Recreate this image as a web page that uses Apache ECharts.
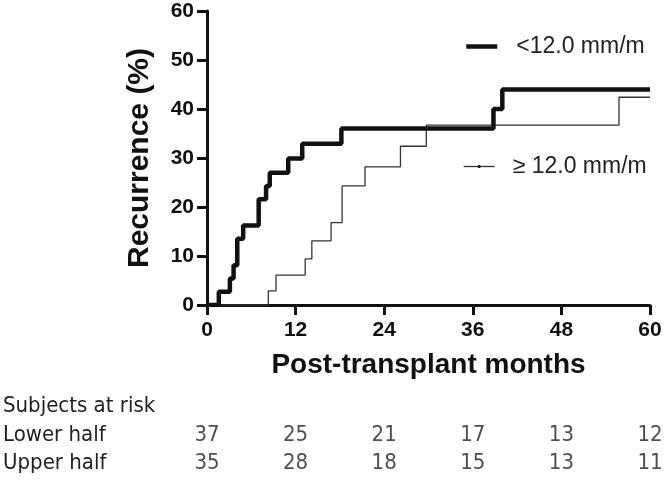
<!DOCTYPE html>
<html><head><meta charset="utf-8">
<script src="https://cdn.jsdelivr.net/npm/echarts@6/dist/echarts.min.js"></script>
<style>html,body{margin:0;padding:0;background:#fff}#c{width:666px;height:486px}</style>
</head><body><div id="c"></div>
<script>
const lowerName = '<12.0 mm/m';
const upperName = '≥ 12.0 mm/m';
const lowerMonths = [0, 1.6, 3.1, 3.6, 4.1, 4.9, 7.0, 8.0, 8.5, 11.0, 12.9, 18.2, 38.8, 40.0, 60];
const lowerPct    = [0, 2.7, 5.4, 8.1, 13.5, 16.2, 21.6, 24.3, 27.0, 29.9, 32.9, 36.0, 40.0, 44.0, 44.0];
const upperMonths = [0, 8.3, 9.35, 13.3, 14.2, 16.8, 18.3, 21.4, 26.2, 29.7, 55.8, 60];
const upperPct    = [0, 2.9, 6.1, 9.4, 13.1, 16.8, 24.3, 28.2, 32.4, 36.7, 42.4, 42.4];
const xTicks = [0, 12, 24, 36, 48, 60];
const riskRows = ['Subjects at risk', 'Lower half', 'Upper half'];
const riskLower = [37, 25, 21, 17, 13, 12];
const riskUpper = [35, 28, 18, 15, 13, 11];

const boldFont = 'Liberation Sans, Arial, sans-serif';
const narrowFont = 'DejaVu Sans Condensed, Liberation Sans, sans-serif';

const chart = echarts.init(document.getElementById('c'), null, {renderer: 'canvas'});
const riskData = [];
xTicks.forEach((m, i) => {
  riskData.push([m, 'Lower half', riskLower[i]]);
  riskData.push([m, 'Upper half', riskUpper[i]]);
});

chart.setOption({
  animation: false,
  backgroundColor: '#fff',
  grid: [
    {left: 207, right: 16, top: 11, height: 294},
    {left: 207, right: 16, top: 392, height: 86}
  ],
  legend: [
    {data: [{name: lowerName}], left: 464, top: 35, padding: 0, itemWidth: 31, itemHeight: 4,
     lineStyle: {width: 4.5, color: '#111'},
     textStyle: {fontFamily: boldFont, fontSize: 23, color: '#222', padding: [0, 0, 0, 14]}},
    {data: [{name: upperName}], left: 463, top: 155, padding: 0, itemWidth: 31, itemHeight: 4,
     lineStyle: {width: 1.3, color: '#333'},
     textStyle: {fontFamily: boldFont, fontSize: 23, color: '#222', padding: [0, 0, 0, 13]}}
  ],
  xAxis: [
    {type: 'value', gridIndex: 0, min: 0, max: 60, interval: 12,
     name: 'Post-transplant months', nameLocation: 'middle', nameGap: 46,
     nameTextStyle: {fontFamily: boldFont, fontWeight: 'bold', fontSize: 28, color: '#111'},
     axisLine: {show: true, lineStyle: {color: '#111', width: 3}},
     axisTick: {show: true, length: 10, lineStyle: {color: '#111', width: 3}},
     axisLabel: {margin: 15, fontFamily: boldFont, fontWeight: 'bold', fontSize: 21, color: '#111'},
     splitLine: {show: false}},
    {type: 'value', gridIndex: 1, min: 0, max: 60, interval: 12, show: false}
  ],
  yAxis: [
    {type: 'value', gridIndex: 0, min: 0, max: 60, interval: 10,
     name: 'Recurrence (%)', nameLocation: 'middle', nameGap: 52,
     nameTextStyle: {fontFamily: boldFont, fontWeight: 'bold', fontSize: 30, color: '#111'},
     axisLine: {show: true, lineStyle: {color: '#111', width: 3}},
     axisTick: {show: true, length: 10, lineStyle: {color: '#111', width: 3}},
     axisLabel: {margin: 13, fontFamily: boldFont, fontWeight: 'bold', fontSize: 21, color: '#111'},
     splitLine: {show: false}},
    {type: 'category', gridIndex: 1, data: riskRows, inverse: true,
     axisLine: {show: false}, axisTick: {show: false}, splitLine: {show: false},
     axisLabel: {interval: 0, align: 'left', margin: 204, fontFamily: narrowFont, fontSize: 22, color: '#222'}}
  ],
  series: [
    {name: lowerName, type: 'line', step: 'end', xAxisIndex: 0, yAxisIndex: 0,
     data: lowerMonths.map((m, i) => [m, lowerPct[i]]), symbol: 'none',
     lineStyle: {color: '#111', width: 4.5}, itemStyle: {color: '#111'}, z: 3},
    {name: upperName, type: 'line', step: 'end', xAxisIndex: 0, yAxisIndex: 0,
     data: upperMonths.map((m, i) => [m, upperPct[i]]), symbol: 'circle', showSymbol: false,
     lineStyle: {color: '#333', width: 1.3}, itemStyle: {color: '#111'}, z: 2},
    {name: 'risk', type: 'scatter', xAxisIndex: 1, yAxisIndex: 1, data: riskData,
     symbolSize: 1, itemStyle: {color: 'rgba(0,0,0,0)'}, silent: true,
     label: {show: true, position: 'inside', formatter: p => p.value[2],
             fontFamily: narrowFont, fontSize: 22, color: '#222'}}
  ]
});
</script></body></html>
